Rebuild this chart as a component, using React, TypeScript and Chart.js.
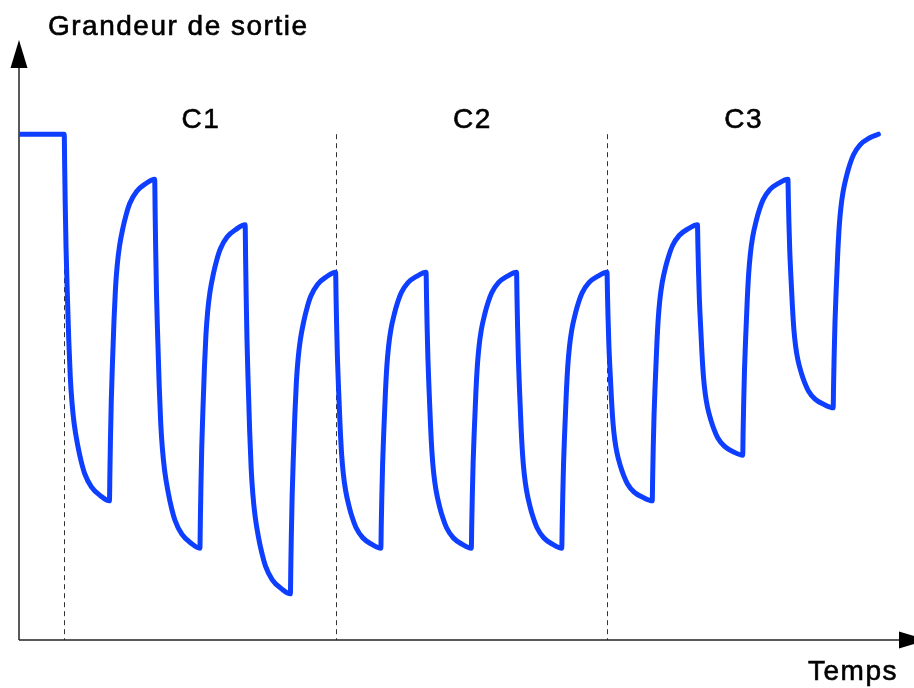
import React, { useEffect, useRef } from "react";
import { Chart, registerables } from "chart.js";

Chart.register(...registerables);

// ---- Data ----
const yAxisTitle = "Grandeur de sortie";
const xAxisTitle = "Temps";
const regionLabels = ["C1", "C2", "C3"];
// region boundaries on the time axis (half-period units)
const regionBounds = [1, 7, 13, 19];
// output before the first switch
const initialLevel = 84.3;
const initialStart = 0;
// switching instants (start of each transient)
const switchTimes = [1, 2, 3, 4, 5, 6, 7, 8, 9, 10, 11, 12, 13, 14, 15, 16, 17, 18];
// value reached at the end of each transient
const segmentTargets = [
  23.2, 76.8, 15.3, 69.2, 7.7, 61.3,
  15.3, 61.3, 15.3, 61.3, 15.3, 61.3,
  23.2, 69.2, 30.8, 76.8, 38.7, 84.3,
];
// shape of one transient: elapsed fraction of a half-period -> fraction of the change done
const responseTime = [0, 0.01, 0.022, 0.04, 0.067, 0.1, 0.133, 0.17, 0.22, 0.3, 0.37, 0.45, 0.6, 0.8, 1];
const responseFraction = [0, 0.09, 0.19, 0.31, 0.43, 0.56, 0.66, 0.73, 0.79, 0.85, 0.89, 0.925, 0.962, 0.986, 1];

const X_MAX = 19.5;
const Y_MIN = 0;
const Y_MAX = 100;

function buildPoints() {
  const pts: { x: number; y: number }[] = [];
  pts.push({ x: initialStart, y: initialLevel });
  let level = initialLevel;
  switchTimes.forEach((t0, i) => {
    const target = segmentTargets[i];
    responseTime.forEach((tp, j) => {
      if (j === 0 && pts.length && pts[pts.length - 1].x === t0) return;
      pts.push({ x: t0 + tp, y: level + (target - level) * responseFraction[j] });
    });
    level = target;
  });
  return pts;
}

const FONT = '28px "Liberation Sans", Arial, Helvetica, sans-serif';

function drawText(ctx: CanvasRenderingContext2D, s: string, x: number, y: number) {
  ctx.fillText(s, x, y);
  ctx.strokeText(s, x, y);
}

const decorPlugin = {
  id: "decor",
  beforeDatasetsDraw(chart: any) {
    const { ctx, chartArea, scales } = chart;
    const xs = scales.x;
    const ys = scales.y;
    const bottom = ys.getPixelForValue(Y_MIN);
    const left = xs.getPixelForValue(0);
    ctx.save();
    // dashed separators
    ctx.strokeStyle = "#333333";
    ctx.lineWidth = 1;
    ctx.setLineDash([5, 4]);
    const topY = ys.getPixelForValue(initialLevel);
    regionBounds.slice(0, 3).forEach((b) => {
      const px = Math.round(xs.getPixelForValue(b)) + 0.5;
      ctx.beginPath();
      ctx.moveTo(px, topY);
      ctx.lineTo(px, bottom);
      ctx.stroke();
    });
    ctx.setLineDash([]);
    // axes
    ctx.strokeStyle = "#222222";
    ctx.lineWidth = 1.5;
    ctx.beginPath();
    ctx.moveTo(left, bottom);
    ctx.lineTo(left, chartArea.top + 26);
    ctx.stroke();
    ctx.beginPath();
    ctx.moveTo(left, bottom);
    ctx.lineTo(chartArea.right + 4, bottom);
    ctx.stroke();
    ctx.fillStyle = "#000000";
    // y arrow
    ctx.beginPath();
    ctx.moveTo(left, chartArea.top);
    ctx.lineTo(left - 8.5, chartArea.top + 28);
    ctx.lineTo(left + 8.5, chartArea.top + 28);
    ctx.closePath();
    ctx.fill();
    // x arrow (tip runs past the canvas edge)
    const base = chartArea.right - 2;
    ctx.beginPath();
    ctx.moveTo(base + 28, bottom);
    ctx.lineTo(base, bottom - 8.5);
    ctx.lineTo(base, bottom + 8.5);
    ctx.closePath();
    ctx.fill();
    ctx.restore();
  },
  afterDatasetsDraw(chart: any) {
    const { ctx, scales } = chart;
    const xs = scales.x;
    ctx.save();
    ctx.font = FONT;
    (ctx as any).letterSpacing = "1.5px";
    ctx.fillStyle = "#000000";
    ctx.strokeStyle = "#000000";
    ctx.lineWidth = 0.6;
    ctx.textBaseline = "alphabetic";
    ctx.textAlign = "left";
    drawText(ctx, yAxisTitle, 48, 35);
    drawText(ctx, xAxisTitle, 808, 680);
    ctx.textAlign = "center";
    regionLabels.forEach((lab, i) => {
      const mid = (regionBounds[i] + regionBounds[i + 1]) / 2;
      drawText(ctx, lab, xs.getPixelForValue(mid) + 1, 128);
    });
    ctx.restore();
  },
};

export default function App() {
  const ref = useRef<HTMLCanvasElement | null>(null);
  useEffect(() => {
    document.body.style.margin = "0";
    if (!ref.current) return;
    const chart = new Chart(ref.current, {
      type: "line",
      data: {
        datasets: [
          {
            data: buildPoints(),
            borderColor: "rgb(14, 62, 255)",
            borderWidth: 5,
            pointRadius: 0,
            fill: false,
            cubicInterpolationMode: "monotone",
            borderCapStyle: "round",
            borderJoinStyle: "round",
          },
        ],
      },
      options: {
        animation: false,
        responsive: false,
        devicePixelRatio: 1,
        parsing: false,
        layout: { padding: { left: 19, right: 13, top: 40, bottom: 48 } },
        plugins: { legend: { display: false }, tooltip: { enabled: false }, title: { display: false } },
        scales: {
          x: { type: "linear", min: 0, max: X_MAX, display: false },
          y: { type: "linear", min: Y_MIN, max: Y_MAX, display: false },
        },
      },
      plugins: [decorPlugin],
    });
    return () => chart.destroy();
  }, []);
  return (
    <div style={{ position: "absolute", left: 0, top: 0, width: 914, height: 688, background: "#fff" }}>
      <canvas ref={ref} width={914} height={688} />
    </div>
  );
}
